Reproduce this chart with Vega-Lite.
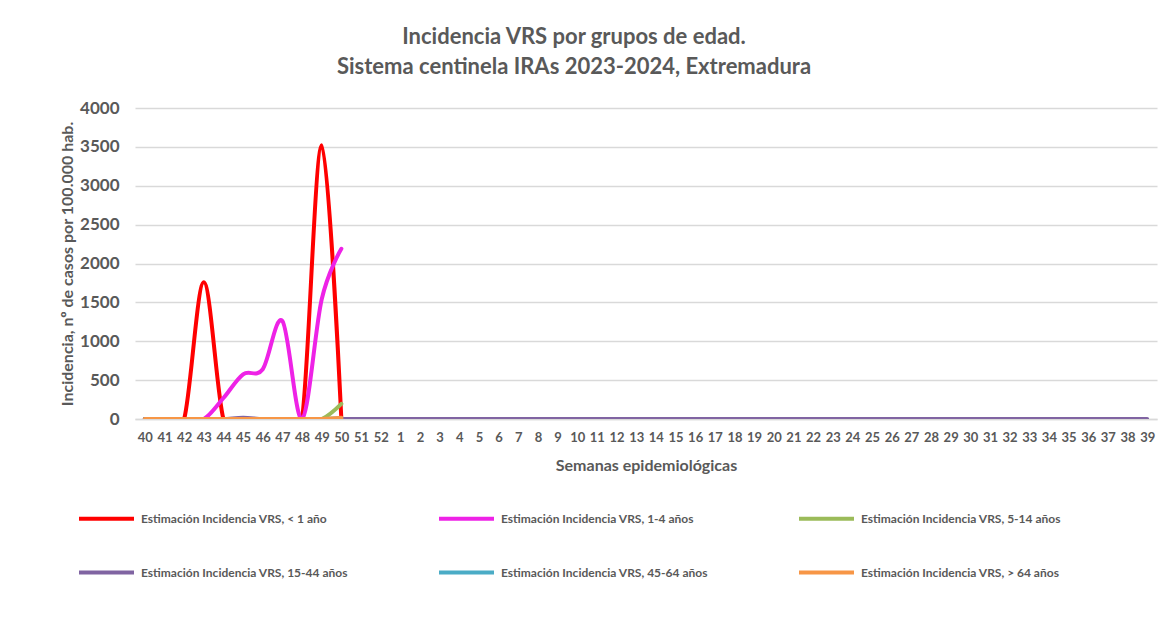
{
  "$schema": "https://vega.github.io/schema/vega-lite/v6.json",
  "width": 1022,
  "height": 311,
  "autosize": {"type": "none"},
  "padding": {"left": 135, "top": 108, "right": 5, "bottom": 211},
  "background": "white",
  "title": {
    "text": ["Incidencia VRS por grupos de edad.", "Sistema centinela IRAs 2023-2024, Extremadura"],
    "anchor": "middle",
    "frame": "group",
    "dx": -72,
    "offset": 20,
    "fontSize": 22,
    "lineHeight": 30,
    "font": "Lato",
    "fontWeight": "bold",
    "color": "#595959"
  },
  "config": {
    "view": {"stroke": null},
    "font": "Lato"
  },
  "data": {
    "values": [
      {"semana": 40, "serie": "Estimación Incidencia VRS, < 1 año", "valor": 0},
      {"semana": 41, "serie": "Estimación Incidencia VRS, < 1 año", "valor": 0},
      {"semana": 42, "serie": "Estimación Incidencia VRS, < 1 año", "valor": 0},
      {"semana": 43, "serie": "Estimación Incidencia VRS, < 1 año", "valor": 1760},
      {"semana": 44, "serie": "Estimación Incidencia VRS, < 1 año", "valor": 0},
      {"semana": 45, "serie": "Estimación Incidencia VRS, < 1 año", "valor": 0},
      {"semana": 46, "serie": "Estimación Incidencia VRS, < 1 año", "valor": 0},
      {"semana": 47, "serie": "Estimación Incidencia VRS, < 1 año", "valor": 0},
      {"semana": 48, "serie": "Estimación Incidencia VRS, < 1 año", "valor": 0},
      {"semana": 49, "serie": "Estimación Incidencia VRS, < 1 año", "valor": 3520},
      {"semana": 50, "serie": "Estimación Incidencia VRS, < 1 año", "valor": 0},
      {"semana": 40, "serie": "Estimación Incidencia VRS, 1-4 años", "valor": 0},
      {"semana": 41, "serie": "Estimación Incidencia VRS, 1-4 años", "valor": 0},
      {"semana": 42, "serie": "Estimación Incidencia VRS, 1-4 años", "valor": 0},
      {"semana": 43, "serie": "Estimación Incidencia VRS, 1-4 años", "valor": 0},
      {"semana": 44, "serie": "Estimación Incidencia VRS, 1-4 años", "valor": 270},
      {"semana": 45, "serie": "Estimación Incidencia VRS, 1-4 años", "valor": 575},
      {"semana": 46, "serie": "Estimación Incidencia VRS, 1-4 años", "valor": 640},
      {"semana": 47, "serie": "Estimación Incidencia VRS, 1-4 años", "valor": 1260},
      {"semana": 48, "serie": "Estimación Incidencia VRS, 1-4 años", "valor": 0},
      {"semana": 49, "serie": "Estimación Incidencia VRS, 1-4 años", "valor": 1540},
      {"semana": 50, "serie": "Estimación Incidencia VRS, 1-4 años", "valor": 2190},
      {"semana": 40, "serie": "Estimación Incidencia VRS, 5-14 años", "valor": 0},
      {"semana": 41, "serie": "Estimación Incidencia VRS, 5-14 años", "valor": 0},
      {"semana": 42, "serie": "Estimación Incidencia VRS, 5-14 años", "valor": 0},
      {"semana": 43, "serie": "Estimación Incidencia VRS, 5-14 años", "valor": 0},
      {"semana": 44, "serie": "Estimación Incidencia VRS, 5-14 años", "valor": 0},
      {"semana": 45, "serie": "Estimación Incidencia VRS, 5-14 años", "valor": 0},
      {"semana": 46, "serie": "Estimación Incidencia VRS, 5-14 años", "valor": 0},
      {"semana": 47, "serie": "Estimación Incidencia VRS, 5-14 años", "valor": 0},
      {"semana": 48, "serie": "Estimación Incidencia VRS, 5-14 años", "valor": 0},
      {"semana": 49, "serie": "Estimación Incidencia VRS, 5-14 años", "valor": 0},
      {"semana": 50, "serie": "Estimación Incidencia VRS, 5-14 años", "valor": 195},
      {"semana": 40, "serie": "Estimación Incidencia VRS, 15-44 años", "valor": 0},
      {"semana": 41, "serie": "Estimación Incidencia VRS, 15-44 años", "valor": 0},
      {"semana": 42, "serie": "Estimación Incidencia VRS, 15-44 años", "valor": 0},
      {"semana": 43, "serie": "Estimación Incidencia VRS, 15-44 años", "valor": 0},
      {"semana": 44, "serie": "Estimación Incidencia VRS, 15-44 años", "valor": 0},
      {"semana": 45, "serie": "Estimación Incidencia VRS, 15-44 años", "valor": 15},
      {"semana": 46, "serie": "Estimación Incidencia VRS, 15-44 años", "valor": 0},
      {"semana": 47, "serie": "Estimación Incidencia VRS, 15-44 años", "valor": 0},
      {"semana": 48, "serie": "Estimación Incidencia VRS, 15-44 años", "valor": 0},
      {"semana": 49, "serie": "Estimación Incidencia VRS, 15-44 años", "valor": 0},
      {"semana": 50, "serie": "Estimación Incidencia VRS, 15-44 años", "valor": 0},
      {"semana": 51, "serie": "Estimación Incidencia VRS, 15-44 años", "valor": 0},
      {"semana": 52, "serie": "Estimación Incidencia VRS, 15-44 años", "valor": 0},
      {"semana": 1, "serie": "Estimación Incidencia VRS, 15-44 años", "valor": 0},
      {"semana": 2, "serie": "Estimación Incidencia VRS, 15-44 años", "valor": 0},
      {"semana": 3, "serie": "Estimación Incidencia VRS, 15-44 años", "valor": 0},
      {"semana": 4, "serie": "Estimación Incidencia VRS, 15-44 años", "valor": 0},
      {"semana": 5, "serie": "Estimación Incidencia VRS, 15-44 años", "valor": 0},
      {"semana": 6, "serie": "Estimación Incidencia VRS, 15-44 años", "valor": 0},
      {"semana": 7, "serie": "Estimación Incidencia VRS, 15-44 años", "valor": 0},
      {"semana": 8, "serie": "Estimación Incidencia VRS, 15-44 años", "valor": 0},
      {"semana": 9, "serie": "Estimación Incidencia VRS, 15-44 años", "valor": 0},
      {"semana": 10, "serie": "Estimación Incidencia VRS, 15-44 años", "valor": 0},
      {"semana": 11, "serie": "Estimación Incidencia VRS, 15-44 años", "valor": 0},
      {"semana": 12, "serie": "Estimación Incidencia VRS, 15-44 años", "valor": 0},
      {"semana": 13, "serie": "Estimación Incidencia VRS, 15-44 años", "valor": 0},
      {"semana": 14, "serie": "Estimación Incidencia VRS, 15-44 años", "valor": 0},
      {"semana": 15, "serie": "Estimación Incidencia VRS, 15-44 años", "valor": 0},
      {"semana": 16, "serie": "Estimación Incidencia VRS, 15-44 años", "valor": 0},
      {"semana": 17, "serie": "Estimación Incidencia VRS, 15-44 años", "valor": 0},
      {"semana": 18, "serie": "Estimación Incidencia VRS, 15-44 años", "valor": 0},
      {"semana": 19, "serie": "Estimación Incidencia VRS, 15-44 años", "valor": 0},
      {"semana": 20, "serie": "Estimación Incidencia VRS, 15-44 años", "valor": 0},
      {"semana": 21, "serie": "Estimación Incidencia VRS, 15-44 años", "valor": 0},
      {"semana": 22, "serie": "Estimación Incidencia VRS, 15-44 años", "valor": 0},
      {"semana": 23, "serie": "Estimación Incidencia VRS, 15-44 años", "valor": 0},
      {"semana": 24, "serie": "Estimación Incidencia VRS, 15-44 años", "valor": 0},
      {"semana": 25, "serie": "Estimación Incidencia VRS, 15-44 años", "valor": 0},
      {"semana": 26, "serie": "Estimación Incidencia VRS, 15-44 años", "valor": 0},
      {"semana": 27, "serie": "Estimación Incidencia VRS, 15-44 años", "valor": 0},
      {"semana": 28, "serie": "Estimación Incidencia VRS, 15-44 años", "valor": 0},
      {"semana": 29, "serie": "Estimación Incidencia VRS, 15-44 años", "valor": 0},
      {"semana": 30, "serie": "Estimación Incidencia VRS, 15-44 años", "valor": 0},
      {"semana": 31, "serie": "Estimación Incidencia VRS, 15-44 años", "valor": 0},
      {"semana": 32, "serie": "Estimación Incidencia VRS, 15-44 años", "valor": 0},
      {"semana": 33, "serie": "Estimación Incidencia VRS, 15-44 años", "valor": 0},
      {"semana": 34, "serie": "Estimación Incidencia VRS, 15-44 años", "valor": 0},
      {"semana": 35, "serie": "Estimación Incidencia VRS, 15-44 años", "valor": 0},
      {"semana": 36, "serie": "Estimación Incidencia VRS, 15-44 años", "valor": 0},
      {"semana": 37, "serie": "Estimación Incidencia VRS, 15-44 años", "valor": 0},
      {"semana": 38, "serie": "Estimación Incidencia VRS, 15-44 años", "valor": 0},
      {"semana": 39, "serie": "Estimación Incidencia VRS, 15-44 años", "valor": 0},
      {"semana": 40, "serie": "Estimación Incidencia VRS, 45-64 años", "valor": 0},
      {"semana": 41, "serie": "Estimación Incidencia VRS, 45-64 años", "valor": 0},
      {"semana": 42, "serie": "Estimación Incidencia VRS, 45-64 años", "valor": 0},
      {"semana": 43, "serie": "Estimación Incidencia VRS, 45-64 años", "valor": 0},
      {"semana": 44, "serie": "Estimación Incidencia VRS, 45-64 años", "valor": 0},
      {"semana": 45, "serie": "Estimación Incidencia VRS, 45-64 años", "valor": 0},
      {"semana": 46, "serie": "Estimación Incidencia VRS, 45-64 años", "valor": 0},
      {"semana": 47, "serie": "Estimación Incidencia VRS, 45-64 años", "valor": 0},
      {"semana": 48, "serie": "Estimación Incidencia VRS, 45-64 años", "valor": 0},
      {"semana": 49, "serie": "Estimación Incidencia VRS, 45-64 años", "valor": 0},
      {"semana": 50, "serie": "Estimación Incidencia VRS, 45-64 años", "valor": 10},
      {"semana": 40, "serie": "Estimación Incidencia VRS, > 64 años", "valor": 0},
      {"semana": 41, "serie": "Estimación Incidencia VRS, > 64 años", "valor": 0},
      {"semana": 42, "serie": "Estimación Incidencia VRS, > 64 años", "valor": 0},
      {"semana": 43, "serie": "Estimación Incidencia VRS, > 64 años", "valor": 0},
      {"semana": 44, "serie": "Estimación Incidencia VRS, > 64 años", "valor": 0},
      {"semana": 45, "serie": "Estimación Incidencia VRS, > 64 años", "valor": 0},
      {"semana": 46, "serie": "Estimación Incidencia VRS, > 64 años", "valor": 0},
      {"semana": 47, "serie": "Estimación Incidencia VRS, > 64 años", "valor": 0},
      {"semana": 48, "serie": "Estimación Incidencia VRS, > 64 años", "valor": 0},
      {"semana": 49, "serie": "Estimación Incidencia VRS, > 64 años", "valor": 0},
      {"semana": 50, "serie": "Estimación Incidencia VRS, > 64 años", "valor": 15}
    ]
  },
  "mark": {"type": "line", "interpolate": "cardinal", "strokeWidth": 4, "strokeCap": "round", "clip": true},
  "encoding": {
    "x": {
      "field": "semana",
      "type": "ordinal",
      "scale": {
        "domain": [40,41,42,43,44,45,46,47,48,49,50,51,52,1,2,3,4,5,6,7,8,9,10,11,12,13,14,15,16,17,18,19,20,21,22,23,24,25,26,27,28,29,30,31,32,33,34,35,36,37,38,39],
        "padding": 0.5
      },
      "axis": {
        "title": "Semanas epidemiológicas",
        "labelAngle": 0,
        "labelFontSize": 13,
        "labelFontWeight": "bold",
        "labelColor": "#595959",
        "labelPadding": 12,
        "ticks": false,
        "domain": true,
        "domainColor": "#d9d9d9",
        "domainWidth": 1.5,
        "titleFontSize": 16,
        "titleFontWeight": "bold",
        "titleColor": "#595959",
        "titlePadding": 13
      }
    },
    "y": {
      "field": "valor",
      "type": "quantitative",
      "scale": {"domain": [0, 4000], "nice": false},
      "axis": {
        "title": "Incidencia, nº de casos por 100.000 hab.",
        "values": [0, 500, 1000, 1500, 2000, 2500, 3000, 3500, 4000],
        "format": "d",
        "labelFontSize": 17,
        "labelFontWeight": "bold",
        "labelColor": "#595959",
        "labelPadding": 16,
        "ticks": false,
        "domain": false,
        "grid": true,
        "gridColor": "#d9d9d9",
        "gridWidth": 1.5,
        "titleFontSize": 16,
        "titleFontWeight": "bold",
        "titleColor": "#595959",
        "titlePadding": 4
      }
    },
    "color": {
      "field": "serie",
      "type": "nominal",
      "scale": {
        "domain": ["Estimación Incidencia VRS, < 1 año", "Estimación Incidencia VRS, 1-4 años", "Estimación Incidencia VRS, 5-14 años", "Estimación Incidencia VRS, 15-44 años", "Estimación Incidencia VRS, 45-64 años", "Estimación Incidencia VRS, > 64 años"],
        "range": ["#ff0000", "#ee22e6", "#9bbb59", "#8064a2", "#4bacc6", "#f79646"]
      },
      "legend": {
        "title": null,
        "orient": "none",
        "legendX": -58,
        "legendY": 381,
        "direction": "horizontal",
        "columns": 3,
        "gridAlign": "all",
        "columnPadding": 83,
        "rowPadding": 16,
        "symbolType": "M-1,0L1,0",
        "symbolSize": 3025,
        "symbolStrokeWidth": 4,
        "labelFontSize": 12,
        "labelFontWeight": "bold",
        "labelColor": "#595959",
        "labelOffset": 5,
        "labelLimit": 400
      }
    }
  }
}
